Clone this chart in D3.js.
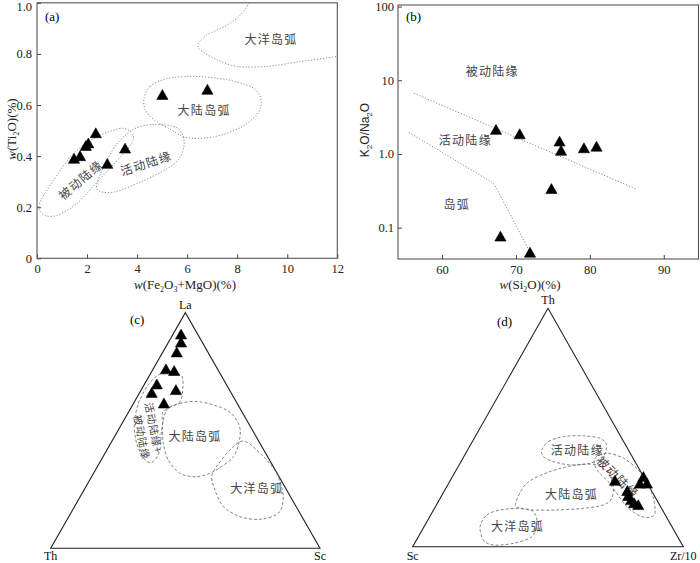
<!DOCTYPE html>
<html><head><meta charset="utf-8">
<script src="https://cdn.jsdelivr.net/npm/d3@7"></script>
<style>body{margin:0;background:#fff}svg{display:block}</style>
</head><body>
<svg id="chart" width="700" height="563"></svg>
<script>
// ---------- Panel (a) data ----------
const aXTicks = [0, 2, 4, 6, 8, 10, 12];
const aYTicks = [0, 0.2, 0.4, 0.6, 0.8, 1.0];
const aYTickLabels = ["0", "0.2", "0.4", "0.6", "0.8", "1.0"];
const aFe2O3MgO = [1.48, 1.72, 1.95, 2.05, 2.35, 2.81, 3.52, 5.01, 6.81];
const aTiO2 = [0.39, 0.40, 0.44, 0.45, 0.49, 0.37, 0.43, 0.64, 0.66];
const aPassive = [[0.08,0.194],[0.19,0.233],[0.65,0.304],[1.32,0.395],[1.99,0.453],[2.79,0.492],[3.45,0.509],[3.83,0.485],[3.79,0.452],[3.32,0.395],[2.52,0.311],[1.59,0.214],[0.79,0.168],[0.31,0.168]];
const aActive = [[2.39,0.272],[2.65,0.356],[3.19,0.447],[3.85,0.505],[4.65,0.524],[5.59,0.511],[5.88,0.459],[5.72,0.395],[5.19,0.35],[4.12,0.298],[3.05,0.259]];
const aContArc = [[4.28,0.628],[4.52,0.673],[5.19,0.703],[6.25,0.712],[7.59,0.699],[8.65,0.666],[8.96,0.615],[8.79,0.563],[8.12,0.511],[7.05,0.475],[5.99,0.472],[5.32,0.505],[4.65,0.544],[4.32,0.583]];
const aOceanArc = [[8.55,1.01],[8.12,0.951],[7.59,0.913],[6.79,0.874],[6.45,0.841],[6.52,0.816],[7.19,0.777],[7.99,0.751],[9.19,0.751],[10.52,0.770],[12.0,0.79]];
const aLabels = [
  {t:"大洋岛弧", x:9.35, y:0.86, r:0},
  {t:"大陆岛弧", x:6.68, y:0.584, r:0},
  {t:"活动陆缘", x:4.35, y:0.375, r:-18},
  {t:"被动陆缘", x:1.72, y:0.31, r:-40}
];

// ---------- Panel (b) data ----------
const bXTicks = [60, 70, 80, 90];
const bYTicks = [0.1, 1, 10, 100];
const bYTickLabels = ["0.1", "1.0", "10", "100"];
const bSiO2 = [67.3, 70.5, 75.9, 76.1, 79.2, 80.9, 74.8, 67.9, 71.9];
const bK2ONa2O = [2.13, 1.86, 1.48, 1.11, 1.2, 1.26, 0.336, 0.076, 0.046];
const bUpperLine = [[56.2, 6.67], [86.2, 0.336]];
const bLowerLine = [[55.5, 1.96], [67.0, 0.40], [72.0, 0.0446]];
const bLabels = [
  {t:"被动陆缘", x:66.8, y:13.4},
  {t:"活动陆缘", x:63.15, y:1.55},
  {t:"岛弧", x:62.0, y:0.21}
];

// ---------- Panel (c) data: La–Th–Sc (%) ----------
const cLa = [90.8, 87.4, 83.2, 76.0, 75.3, 69.6, 66.0, 67.2, 61.5];
const cTh = [6.2, 7.9, 11.6, 19.2, 16.5, 25.8, 29.5, 19.9, 27.2];
const cSc = [3.0, 4.7, 5.2, 4.8, 8.2, 4.6, 4.5, 12.9, 11.3];
// outlines as [La, Sc] fractions
const cMargin = [[.750,.062],[.731,.121],[.672,.154],[.622,.169],[.587,.137],[.502,.161],[.417,.197],[.368,.197],[.375,.163],[.446,.096],[.531,.045],[.615,.018],[.686,.014],[.731,.028]];
const cContArc = [[.580,.128],[.615,.172],[.622,.243],[.587,.360],[.531,.431],[.474,.466],[.389,.484],[.325,.441],[.304,.390],[.318,.321],[.375,.249],[.446,.195],[.531,.150]];
const cOceanArc = [[.325,.441],[.453,.477],[.403,.576],[.318,.680],[.219,.754],[.149,.771],[.123,.716],[.134,.636],[.177,.553],[.248,.486]];
const cLabels = [
  {t:"大陆岛弧", la:.478, sc:.297, r:0, fs:12},
  {t:"大洋岛弧", la:.259, sc:.636, r:0, fs:12},
  {t:"活动陆缘+", la:.511, sc:.128, r:79, fs:10.5},
  {t:"被动陆缘", la:.472, sc:.104, r:79, fs:10.5}
];

// ---------- Panel (d) data: Th–Sc–Zr/10 (%) ----------
const dTh = [27.7, 29.3, 26.5, 26.5, 23.4, 21.3, 19.6, 18.3, 17.5];
const dSc = [11.4, 0.1, 2.8, 0.2, 9.0, 9.7, 9.5, 9.0, 7.9];
const dZr = [60.9, 70.6, 70.7, 73.3, 67.6, 69.0, 70.9, 72.7, 74.6];
// outlines as [Th, Zr] fractions
const dActive = [[.406,.274],[.441,.281],[.462,.326],[.465,.398],[.455,.464],[.427,.503],[.378,.515],[.350,.480],[.343,.410],[.357,.341],[.378,.294]];
const dPassive = [[.378,.491],[.392,.527],[.371,.593],[.329,.663],[.266,.737],[.196,.793],[.140,.825],[.123,.815],[.129,.775],[.168,.707],[.224,.642],[.273,.586],[.315,.528],[.350,.496]];
const dContArc = [[.182,.289],[.266,.288],[.315,.350],[.343,.434],[.343,.508],[.308,.569],[.252,.615],[.203,.634],[.175,.617],[.161,.550],[.154,.455],[.154,.369],[.161,.316]];
const dOceanArc = [[.084,.207],[.133,.207],[.154,.246],[.161,.316],[.147,.372],[.098,.411],[.042,.419],[.014,.365],[.007,.294],[.028,.247]];
const dLabels = [
  {t:"活动陆缘", th:.409, zr:.404, r:0, fs:12},
  {t:"被动陆缘", th:.294, zr:.613, r:45, fs:12},
  {t:"大陆岛弧", th:.224, zr:.475, r:0, fs:12},
  {t:"大洋岛弧", th:.091, zr:.342, r:0, fs:12}
];

// ---------- drawing ----------
const svg = d3.select("#chart");
svg.append("rect").attr("width",700).attr("height",563).attr("fill","#fff");
const SERIF = "'Liberation Serif','Times New Roman',serif";
const CJK = "'Noto Sans CJK SC','Noto Sans CJK JP',sans-serif";
const tri = "M0,-5.3L5.6,4.6L-5.6,4.6Z";
const cjkText = (g, t, x, y, r, fs, ls) => g.append("text")
  .attr("transform", `translate(${x},${y}) rotate(${r||0})`)
  .attr("text-anchor","middle").attr("dominant-baseline","central")
  .attr("font-family", CJK).attr("font-size", fs||12).attr("letter-spacing", ls==null?1.3:ls)
  .attr("fill","#444").text(t);
function styleAxis(g){
  g.selectAll("text").attr("font-family",SERIF).attr("font-size",12.5).attr("fill","#222");
  g.selectAll("line").attr("stroke","#444");
  g.select(".domain").remove();
}

// Panel (a)
{
  const x = d3.scaleLinear([0,12],[37,337.3]);
  const y = d3.scaleLinear([0,1],[258.3,2.8]);
  const g = svg.append("g");
  g.append("defs").append("clipPath").attr("id","clipA").append("rect")
    .attr("x",x(0)).attr("y",y(1)).attr("width",x(12)-x(0)).attr("height",y(0)-y(1));
  const ax = g.append("g").attr("transform",`translate(0,${y(0)})`)
    .call(d3.axisBottom(x).tickValues(aXTicks).tickSizeInner(-4).tickSizeOuter(0).tickPadding(6));
  styleAxis(ax);
  const ay = g.append("g").attr("transform",`translate(${x(0)},0)`)
    .call(d3.axisLeft(y).tickValues(aYTicks).tickFormat((d,i)=>aYTickLabels[i]).tickSizeInner(-4).tickSizeOuter(0).tickPadding(5));
  styleAxis(ay);
  ay.selectAll(".tick text").filter(d=>d===1).attr("dy","0.62em");
  g.append("rect").attr("x",x(0)).attr("y",y(1)).attr("width",x(12)-x(0)).attr("height",y(0)-y(1))
    .attr("fill","none").attr("stroke","#555").attr("stroke-width",1.1);
  const closed = d3.line().x(d=>x(d[0])).y(d=>y(d[1])).curve(d3.curveCardinalClosed.tension(0.1));
  const open = d3.line().x(d=>x(d[0])).y(d=>y(d[1])).curve(d3.curveCardinal.tension(0.1));
  const reg = g.append("g").attr("clip-path","url(#clipA)").attr("fill","none")
    .attr("stroke","#8a8a8a").attr("stroke-width",1).attr("stroke-dasharray","1.2,1.8");
  [aPassive,aActive,aContArc].forEach(p=>reg.append("path").attr("d",closed(p)));
  reg.append("path").attr("d",open(aOceanArc));
  aLabels.forEach(l=>cjkText(g,l.t,x(l.x),y(l.y),l.r));
  g.selectAll(".pa").data(aFe2O3MgO).join("path").attr("d",tri)
    .attr("transform",(d,i)=>`translate(${x(d)},${y(aTiO2[i])})`)
    .attr("fill","#000").attr("stroke","#000").attr("stroke-width",0.6);
  g.append("text").attr("x",45).attr("y",21).attr("font-family",SERIF).attr("font-size",13).text("(a)");
  const yl = g.append("text").attr("transform","translate(16,129) rotate(-90)").attr("text-anchor","middle")
    .attr("font-family",SERIF).attr("font-size",13).attr("fill","#222");
  yl.append("tspan").attr("font-style","italic").text("w");
  yl.append("tspan").text("(Ti");
  yl.append("tspan").attr("font-size",8).attr("dy",3).text("2");
  yl.append("tspan").attr("dy",-3).text("O)(%)");
  const xl = g.append("text").attr("x",185).attr("y",289).attr("text-anchor","middle")
    .attr("font-family",SERIF).attr("font-size",13).attr("fill","#222");
  xl.append("tspan").attr("font-style","italic").text("w");
  xl.append("tspan").text("(Fe");
  xl.append("tspan").attr("font-size",8).attr("dy",3).text("2");
  xl.append("tspan").attr("dy",-3).text("O");
  xl.append("tspan").attr("font-size",8).attr("dy",3).text("3");
  xl.append("tspan").attr("dy",-3).text("+MgO)(%)");
}

// Panel (b)
{
  const x = d3.scaleLinear([54.04,94.7],[398,698.5]);
  const y = d3.scaleLog([0.0376,105],[259,5]);
  const g = svg.append("g");
  const [x0,x1] = x.range(), [y0,y1] = y.range();
  const ax = g.append("g").attr("transform",`translate(0,${y0})`)
    .call(d3.axisBottom(x).tickValues(bXTicks).tickSizeInner(-4).tickSizeOuter(0).tickPadding(6));
  styleAxis(ax);
  const ay = g.append("g").attr("transform",`translate(${x0},0)`)
    .call(d3.axisLeft(y).tickValues(bYTicks).tickFormat((d,i)=>bYTickLabels[i]).tickSizeInner(-4).tickSizeOuter(0).tickPadding(4));
  styleAxis(ay);
  g.append("rect").attr("x",x0).attr("y",y1).attr("width",x1-x0).attr("height",y0-y1)
    .attr("fill","none").attr("stroke","#555").attr("stroke-width",1.1);
  const ln = d3.line().x(d=>x(d[0])).y(d=>y(d[1]));
  [bUpperLine,bLowerLine].forEach(p=>g.append("path").attr("d",ln(p)).attr("fill","none")
    .attr("stroke","#8a8a8a").attr("stroke-dasharray","1.2,1.8"));
  bLabels.forEach(l=>cjkText(g,l.t,x(l.x),y(l.y),0));
  g.selectAll(".pb").data(bSiO2).join("path").attr("d",tri)
    .attr("transform",(d,i)=>`translate(${x(d)},${y(bK2ONa2O[i])})`)
    .attr("fill","#000").attr("stroke","#000").attr("stroke-width",0.6);
  g.append("text").attr("x",406).attr("y",21).attr("font-family",SERIF).attr("font-size",13).text("(b)");
  const yl = g.append("text").attr("transform","translate(369,130) rotate(-90)").attr("text-anchor","middle")
    .attr("font-family","'Liberation Sans',Arial,sans-serif").attr("font-size",12).attr("fill","#222");
  yl.append("tspan").text("K");
  yl.append("tspan").attr("font-size",8).attr("dy",3).text("2");
  yl.append("tspan").attr("dy",-3).text("O/Na");
  yl.append("tspan").attr("font-size",8).attr("dy",3).text("2");
  yl.append("tspan").attr("dy",-3).text("O");
  const xl = g.append("text").attr("x",530).attr("y",289).attr("text-anchor","middle")
    .attr("font-family",SERIF).attr("font-size",13).attr("fill","#222");
  xl.append("tspan").attr("font-style","italic").text("w");
  xl.append("tspan").text("(Si");
  xl.append("tspan").attr("font-size",8).attr("dy",3).text("2");
  xl.append("tspan").attr("dy",-3).text("O)(%)");
}

// Ternary helper
function ternary(xr, yr, top, left, right, pts, regions, labels, tag, tagPos){
  const x = d3.scaleLinear([0,1], xr), y = d3.scaleLinear([0,1], yr);
  const g = svg.append("g");
  const px = d => x(d[1] + d[0]/2), py = d => y(d[0]);
  g.append("path").attr("d", d3.line()([[x(0),y(0)],[x(1),y(0)],[x(0.5),y(1)]]) + "Z")
    .attr("fill","none").attr("stroke","#222").attr("stroke-width",1.1);
  const closed = d3.line().x(px).y(py).curve(d3.curveCardinalClosed.tension(0.1));
  regions.forEach(r=>g.append("path").attr("d",closed(r)).attr("fill","none")
    .attr("stroke","#777").attr("stroke-width",0.9).attr("stroke-dasharray","3,2"));
  labels.forEach(l=>cjkText(g,l.t,px([l.a,l.b]),py([l.a,l.b]),l.r,l.fs,l.fs<12?0.8:1.3));
  g.selectAll(".pt").data(pts).join("path").attr("d",tri)
    .attr("transform",d=>`translate(${px(d)},${py(d)})`)
    .attr("fill","#000").attr("stroke","#000").attr("stroke-width",0.6);
  const vt = (t,xx,yy)=>g.append("text").attr("x",xx).attr("y",yy).attr("text-anchor","middle")
    .attr("font-family",SERIF).attr("font-size",12).attr("fill","#111").text(t);
  vt(top, x(0.5), y(1)-4);
  vt(left, x(0), 560);
  vt(right, Math.min(x(1), 684), 560);
  g.append("text").attr("x",tagPos[0]).attr("y",tagPos[1]).attr("font-family",SERIF).attr("font-size",13).text(tag);
}

// Panel (c)
ternary([50.7,320],[548.3,312.7],"La","Th","Sc",
  cLa.map((v,i)=>{const s=v+cTh[i]+cSc[i];return [v/s,cSc[i]/s];}),
  [cMargin,cContArc,cOceanArc],
  cLabels.map(l=>({t:l.t,a:l.la,b:l.sc,r:l.r,fs:l.fs})),"(c)",[130,324]);

// Panel (d)
ternary([412.7,683.3],[546.7,308.3],"Th","Sc","Zr/10",
  dTh.map((v,i)=>{const s=v+dSc[i]+dZr[i];return [v/s,dZr[i]/s];}),
  [dActive,dPassive,dContArc,dOceanArc],
  dLabels.map(l=>({t:l.t,a:l.th,b:l.zr,r:l.r,fs:l.fs})),"(d)",[497,326]);
</script>
</body></html>
